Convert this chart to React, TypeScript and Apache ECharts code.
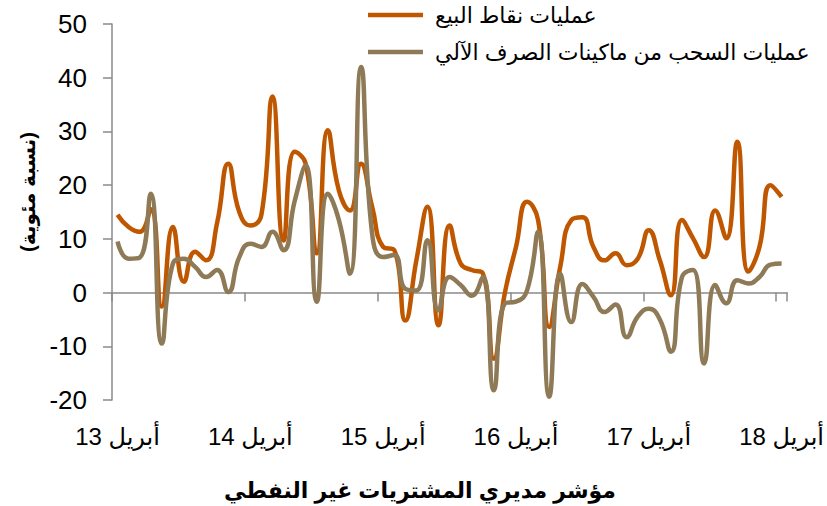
import React, { useEffect, useRef } from "react";
import * as echarts from "echarts";

const MONTHS = ["يناير", "فبراير", "مارس", "أبريل", "مايو", "يونيو", "يوليو", "أغسطس", "سبتمبر", "أكتوبر", "نوفمبر", "ديسمبر"];
const START_MONTH = 3; // April
const START_YEAR = 13;
const MONTH_COUNT = 61;
const categories: string[] = [];
for (let i = 0; i < MONTH_COUNT; i++) {
  const m = (START_MONTH + i) % 12;
  const y = START_YEAR + Math.floor((START_MONTH + i) / 12);
  categories.push(`${MONTHS[m]} ${y}`);
}

const posName = "عمليات نقاط البيع";
const atmName = "عمليات السحب من ماكينات الصرف الآلي";

const posValues = [
  14.5, 12.2, 11.3, 15.5, -2.6, 12.2, 2.0, 7.6, 6.0, 13,
  24, 15, 12.5, 14.5, 36.5, 9.7, 26.2, 24, 7.3, 30.2,
  19, 15.3, 24, 16, 8.5, 7.9, -5.2, 6, 16, -6.1,
  12.5, 5.4, 4.2, 3.6, -12.3, 0, 8.5, 16.9, 13.5, -6.4,
  4.8, 13.5, 14, 8.5, 6, 7.3, 5.1, 6.3, 11.6, 6,
  -0.5, 13.5, 10.1, 6.6, 15.3, 10.1, 28.1, 3.9, 8.5, 20,
  17.8,
];

const atmValues = [
  9.5, 6.3, 6.5, 18.4, -9.5, 5.4, 6.3, 4.8, 2.9, 4.2,
  0.1, 6.6, 9.1, 8.5, 11.3, 7.9, 17, 23.7, -1.7, 18.4,
  13.5, 3.5, 42, 11, 6.6, 7, 0.7, 0.4, 9.75, -3.3,
  2.9, 1.4, -0.6, 2.9, -18.2, -2, -1.7, 0.4, 11.3, -19.4,
  3.5, -5.5, 1.6, -0.8, -3.6, -2.2, -8.3, -4.5, -3, -5,
  -11, 2.9, 4.2, -13.2, 1.4, -2, 2.3, 1.7, 2.9, 5.2,
  5.4,
];

const yAxisTitle = "(نسبة مئوية)";
const xAxisTitle = "مؤشر مديري المشتريات غير النفطي";

const FONT = "'Liberation Sans', Arial, 'DejaVu Sans', sans-serif";
const AXIS_COLOR = "#8a8a8a";

export default function App() {
  const ref = useRef<HTMLDivElement>(null);
  useEffect(() => {
    if (!ref.current) return;
    const chart = echarts.init(ref.current, undefined, { renderer: "svg" });
    chart.setOption({
      animation: false,
      backgroundColor: "#ffffff",
      textStyle: { fontFamily: FONT },
      grid: { left: 112, right: 39, top: 24, bottom: 106, containLabel: false },
      legend: {
        orient: "vertical",
        left: 368,
        top: 2,
        padding: 0,
        itemWidth: 55,
        itemHeight: 4.5,
        itemGap: 11,
        icon: "rect",
        data: [posName, atmName],
        textStyle: { fontSize: 22, color: "#000", lineHeight: 26, padding: [0, 0, 0, 7], fontFamily: FONT },
      },
      xAxis: [
        {
          type: "category",
          data: categories,
          boundaryGap: true,
          axisLine: { onZero: true, lineStyle: { color: AXIS_COLOR, width: 1.5 } },
          axisTick: { show: true, interval: 11, length: 9, lineStyle: { color: AXIS_COLOR, width: 1.5 } },
          axisLabel: { show: false },
          splitLine: { show: false },
        },
        {
          type: "category",
          data: categories,
          boundaryGap: true,
          position: "bottom",
          axisLine: { show: false, onZero: false },
          axisTick: { show: false },
          axisLabel: { show: true, interval: 11, fontSize: 24, color: "#000", margin: 24, fontFamily: FONT },
          splitLine: { show: false },
        },
      ],
      yAxis: {
        type: "value",
        min: -20,
        max: 50,
        interval: 10,
        axisLine: { show: true, lineStyle: { color: AXIS_COLOR, width: 1.5 } },
        axisTick: { show: true, length: 9, lineStyle: { color: AXIS_COLOR, width: 1.5 } },
        axisLabel: { fontSize: 26, color: "#000", margin: 25, fontFamily: FONT },
        splitLine: { show: false },
      },
      graphic: [
        {
          type: "text",
          x: 28,
          y: 192,
          rotation: Math.PI / 2,
          style: {
            text: yAxisTitle,
            fontSize: 20,
            fontWeight: "bold",
            fontFamily: FONT,
            fill: "#000",
            textAlign: "center",
            textVerticalAlign: "middle",
          },
        },
        {
          type: "text",
          x: 420,
          y: 490,
          style: {
            text: xAxisTitle,
            fontSize: 22,
            fontWeight: "bold",
            fontFamily: FONT,
            fill: "#000",
            textAlign: "center",
            textVerticalAlign: "middle",
          },
        },
      ],
      series: [
        {
          name: posName,
          type: "line",
          data: posValues,
          smooth: 0.5,
          showSymbol: false,
          xAxisIndex: 0,
          color: "#BF5700",
          lineStyle: { width: 4.5, color: "#BF5700" },
        },
        {
          name: atmName,
          type: "line",
          data: atmValues,
          smooth: 0.5,
          showSymbol: false,
          xAxisIndex: 0,
          color: "#8E7A56",
          lineStyle: { width: 4.5, color: "#8E7A56" },
        },
      ],
    });
    return () => chart.dispose();
  }, []);
  return <div ref={ref} style={{ position: "fixed", left: 0, top: 0, width: 827, height: 506 }} />;
}
